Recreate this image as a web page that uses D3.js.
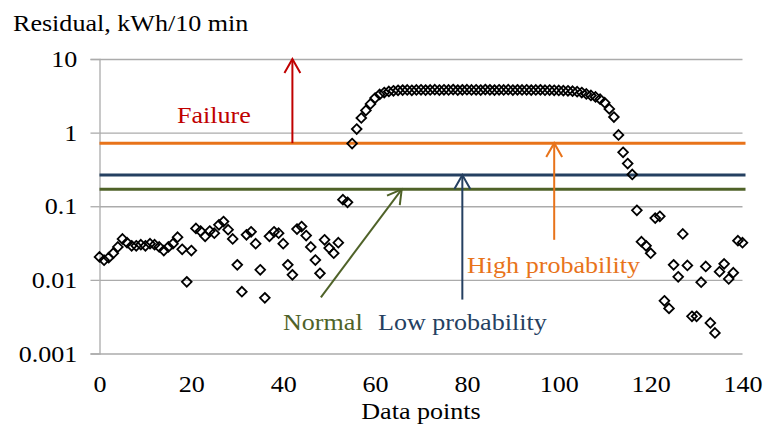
<!DOCTYPE html>
<html lang="en">

<head>
    <meta charset="UTF-8">
    <title>Residual</title>
    <script src="https://cdnjs.cloudflare.com/ajax/libs/d3/7.8.5/d3.min.js"></script>
    <style>
        body { margin: 0; background: #fff; }
        svg text { font-family: "Liberation Serif", "Times New Roman", serif; font-size: 23.5px; }
    </style>
</head>

<body>
    <script>
        // residual per data point (index 0..140)
        const residual = [
            0.0205, 0.0185, 0.020, 0.023, 0.028, 0.036, 0.032, 0.029, 0.029, 0.030,
            0.029, 0.031, 0.030, 0.028, 0.025, 0.028, 0.031, 0.038, 0.026, 0.0094,
            0.025, 0.050, 0.046, 0.039, 0.046, 0.043, 0.056, 0.062, 0.048, 0.036,
            0.016, 0.0069, 0.041, 0.045, 0.031, 0.0137, 0.0057, 0.039, 0.045, 0.043,
            0.031, 0.016, 0.0117, 0.049, 0.053, 0.040, 0.028, 0.0186, 0.0123, 0.035,
            0.027, 0.023, 0.032, 0.123, 0.113, 0.71, 1.12, 1.58, 2.0, 2.45,
            2.95, 3.3, 3.5, 3.62, 3.7, 3.75, 3.78, 3.8, 3.76, 3.8,
            3.82, 3.78, 3.8, 3.83, 3.79, 3.82, 3.8, 3.84, 3.78, 3.81,
            3.83, 3.8, 3.82, 3.79, 3.84, 3.81, 3.78, 3.82, 3.8, 3.83,
            3.79, 3.81, 3.8, 3.82, 3.78, 3.8, 3.81, 3.77, 3.79, 3.76,
            3.74, 3.72, 3.7, 3.66, 3.6, 3.5, 3.35, 3.2, 3.05, 2.85,
            2.55, 2.1, 1.63, 0.93, 0.54, 0.38, 0.27, 0.088, 0.033, 0.029,
            0.023, 0.069, 0.073, 0.0052, 0.0041, 0.016, 0.011, 0.042, 0.0157, 0.0032,
            0.0032, 0.0093, 0.0152, 0.0026, 0.0019, 0.0129, 0.0165, 0.0103, 0.0125, 0.034,
            0.032
        ];

        // threshold levels
        const thresholds = [
            { name: 'high', value: 0.72, color: '#E8731A' },
            { name: 'low', value: 0.265, color: '#254061' },
            { name: 'normal', value: 0.17, color: '#4F6228' }
        ];

        const yTicks = [0.001, 0.01, 0.1, 1, 10];
        const xTicks = [0, 20, 40, 60, 80, 100, 120, 140];

        // arrows in data units
        const arrows = [
            { from: [42, 0.72], to: [42, 10], color: '#C00000' },
            { from: [99, 0.035], to: [99, 0.72], color: '#E8731A' },
            { from: [79, 0.0054], to: [79, 0.265], color: '#254061' },
            { from: [48.2, 0.0058], to: [65.8, 0.17], color: '#4F6228' }
        ];

        const labels = [
            { text: 'Failure', x: 177, y: 123, color: '#C00000' },
            { text: 'High probability', x: 467, y: 273, color: '#E8731A' },
            { text: 'Normal', x: 283, y: 330, color: '#4F6228' },
            { text: 'Low probability', x: 378, y: 330, color: '#254061' }
        ];

        const w = 763;
        const h = 430;
        const stretch = 1.11;
        const plotLeft = 99.5, plotRight = 742.5, plotTop = 59, plotBottom = 353.5;

        const x = d3.scaleLinear().domain([0, 140]).range([plotLeft, plotRight]);
        const y = d3.scaleLog().domain([0.001, 10]).range([plotBottom, plotTop]);

        const svg = d3.select('body')
            .append('svg')
            .attr('width', w)
            .attr('height', h);

        // gridlines
        svg.append('g')
            .attr('transform', `translate(${plotLeft}, 0)`)
            .call(d3.axisLeft(y).tickValues(yTicks).tickSize(-(plotRight - plotLeft)).tickFormat(''))
            .call(g => g.select('.domain').remove())
            .selectAll('line').attr('stroke', '#ABABAB').attr('stroke-width', 1.3);

        // y axis
        const yAxis = svg.append('g')
            .attr('transform', `translate(${plotLeft}, 0)`)
            .call(d3.axisLeft(y).tickValues(yTicks).tickSize(9).tickPadding(11)
                .tickFormat(d => d >= 1 ? String(d) : d3.format('.3~f')(d)));
        yAxis.select('.domain').attr('stroke', '#ABABAB').attr('stroke-width', 1.3);
        yAxis.selectAll('line').attr('stroke', '#ABABAB').attr('stroke-width', 1.3);
        yAxis.selectAll('text')
            .attr('fill', '#000')
            .style('font-size', '23.5px')
            .attr('transform', `scale(${stretch},1)`);

        // x axis
        const xAxis = svg.append('g')
            .attr('transform', `translate(0, ${plotBottom})`)
            .call(d3.axisBottom(x).tickValues(xTicks).tickSize(0).tickPadding(22));
        xAxis.select('.domain').remove();
        xAxis.selectAll('text')
            .attr('fill', '#000')
            .style('font-size', '23.5px')
            .attr('transform', `scale(${stretch},1)`);

        // threshold lines
        svg.selectAll('.thr')
            .data(thresholds)
            .enter()
            .append('line')
            .attr('class', 'thr')
            .attr('x1', plotLeft)
            .attr('x2', plotRight + 3)
            .attr('y1', d => y(d.value))
            .attr('y2', d => y(d.value))
            .attr('stroke', d => d.color)
            .attr('stroke-width', 3);

        // points
        svg.selectAll('.pt')
            .data(residual)
            .enter()
            .append('path')
            .attr('class', 'pt')
            .attr('d', d3.symbol(d3.symbolDiamond2, 60))
            .attr('transform', (d, i) => `translate(${x(i)}, ${y(d)})`)
            .attr('fill', 'none')
            .attr('stroke', '#000')
            .attr('stroke-width', 1.8);

        // arrows
        arrows.forEach(a => {
            const x0 = x(a.from[0]), y0 = y(a.from[1]);
            const x1 = x(a.to[0]), y1 = y(a.to[1]);
            const ang = Math.atan2(y1 - y0, x1 - x0);
            const len = 16, spread = 0.52;
            const p1 = [x1 - len * Math.cos(ang - spread), y1 - len * Math.sin(ang - spread)];
            const p2 = [x1 - len * Math.cos(ang + spread), y1 - len * Math.sin(ang + spread)];
            svg.append('line')
                .attr('x1', x0).attr('y1', y0).attr('x2', x1).attr('y2', y1)
                .attr('stroke', a.color).attr('stroke-width', 2);
            svg.append('path')
                .attr('d', `M${p1[0]},${p1[1]}L${x1},${y1}L${p2[0]},${p2[1]}`)
                .attr('fill', 'none')
                .attr('stroke', a.color).attr('stroke-width', 2);
        });

        // annotation labels
        svg.selectAll('.lbl')
            .data(labels)
            .enter()
            .append('text')
            .attr('class', 'lbl')
            .attr('transform', d => `translate(${d.x}, ${d.y}) scale(${stretch},1)`)
            .attr('fill', d => d.color)
            .text(d => d.text);

        // axis titles
        svg.append('text')
            .attr('transform', `translate(13, 31) scale(${stretch},1)`)
            .text('Residual, kWh/10 min');

        svg.append('text')
            .attr('transform', `translate(${(plotLeft + plotRight) / 2}, 419) scale(${stretch},1)`)
            .attr('text-anchor', 'middle')
            .text('Data points');
    </script>
</body>

</html>
